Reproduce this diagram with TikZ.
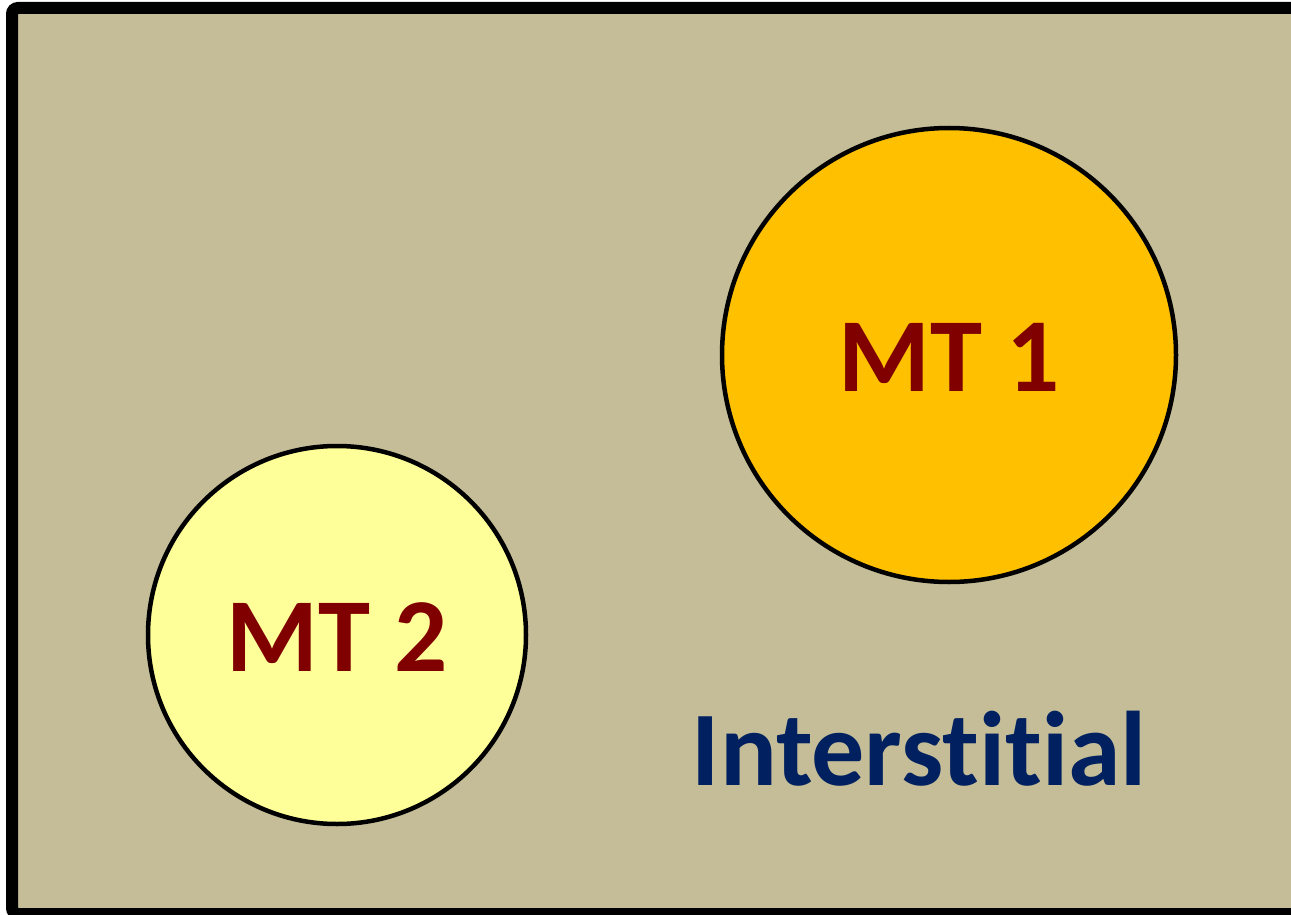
\documentclass[tikz,border=0pt]{standalone}
\usepackage{fontspec}
\setmainfont[Ligatures=NoCommon]{Carlito}
\usepackage{tikz}
\usetikzlibrary{positioning}

\definecolor{hintergrund}{HTML}{C4BD97}
\definecolor{orangemt}{HTML}{FFC000}
\definecolor{gelbmt}{HTML}{FFFF99}
\definecolor{rotmt}{HTML}{800000}
\definecolor{blaumt}{HTML}{002060}

\begin{document}
\begin{tikzpicture}[x=1pt,y=-1pt,
    mtkreis/.style={circle,draw=black,line width=4.5pt,inner sep=0pt},
    mttext/.style={font=\fontsize{105}{105}\selectfont\bfseries,text=rotmt,yshift=-2.5pt}]
     \useasboundingbox (0,0) rectangle (1291,915);
     \clip (0,0) rectangle (1291,915);
     % Hintergrund
     \draw[line width=12pt,fill=hintergrund,rounded corners=6pt] (12,8) rectangle (1320,914);

     \foreach \name/\x/\y/\radius/\farbe in {mta/949/355/227/orangemt,mtb/337/635/189/gelbmt}
     {
       \node[mtkreis,fill=\farbe,minimum size=2*\radius pt] (\name) at (\x,\y) {};
     }
     \node[mttext] (mtatext) at (mta) {MT 1};
     \node[mttext] (mtbtext) at (mtb) {MT 2};
     \node[font=\fontsize{106}{106}\selectfont\bfseries,text=blaumt,anchor=base] (inter) at (919,785) {Interstitial};
   \end{tikzpicture}
\end{document}
